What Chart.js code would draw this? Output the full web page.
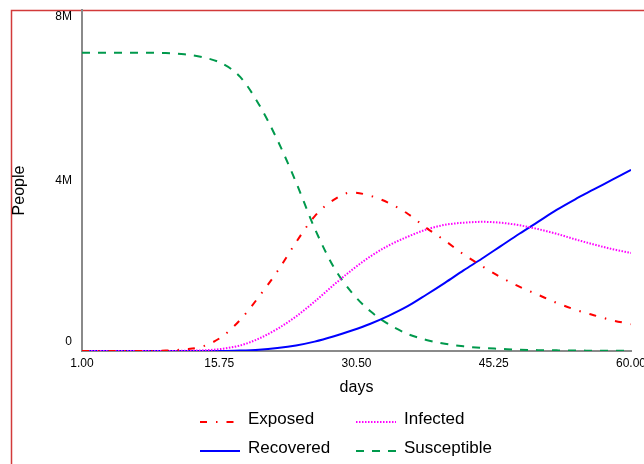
<!DOCTYPE html>
<html>
<head>
<meta charset="utf-8">
<script src="https://cdn.jsdelivr.net/npm/chart.js@4.4.1/dist/chart.umd.min.js"></script>
<style>
  html, body { margin: 0; padding: 0; background: #fff; overflow: hidden; }
  #wrap { position: relative; width: 644px; height: 464px; }
</style>
</head>
<body>
<div id="wrap"><canvas id="seir" width="644" height="464"></canvas></div>
<script>
/* ---- data (people, in millions) ---- */
const days = [1, 4, 7, 10, 12, 14, 16, 18, 20, 22, 24, 26, 28, 30, 32, 34, 36, 38, 40, 42, 44, 46, 48, 50, 52, 54, 56, 58, 60];

const exposed     = [0, 0, 0, 0.01, 0.04, 0.11, 0.33, 0.73, 1.27, 1.87, 2.55, 3.16, 3.54, 3.72, 3.64, 3.47, 3.22, 2.89, 2.59, 2.27, 1.99, 1.73, 1.51, 1.32, 1.13, 0.97, 0.84, 0.72, 0.63];
const infected    = [0, 0, 0, 0, 0.005, 0.015, 0.05, 0.13, 0.29, 0.52, 0.81, 1.16, 1.54, 1.90, 2.22, 2.48, 2.68, 2.85, 2.96, 3.01, 3.03, 3.01, 2.95, 2.86, 2.75, 2.62, 2.50, 2.39, 2.30];
const recovered   = [0, 0, 0, 0, 0, 0, 0, 0.01, 0.03, 0.07, 0.13, 0.22, 0.34, 0.48, 0.64, 0.83, 1.05, 1.32, 1.60, 1.89, 2.17, 2.46, 2.75, 3.03, 3.31, 3.56, 3.79, 4.02, 4.25];
const susceptible = [7, 7, 7, 6.99, 6.96, 6.89, 6.75, 6.43, 5.79, 4.95, 3.96, 2.88, 1.99, 1.37, 0.93, 0.62, 0.40, 0.26, 0.17, 0.11, 0.07, 0.05, 0.03, 0.02, 0.015, 0.01, 0.008, 0.005, 0.003];

const xTicks = [1, 15.75, 30.5, 45.25, 60];
const yTicks = [0, 4, 8];
const yTickLabels = ['0', '4M', '8M'];

const xTitle = 'days';
const yTitle = 'People';

const FONT = '"Liberation Sans", Arial, sans-serif';
const AXIS_GRAY = '#8a8a8a';
const FRAME_RED = '#d23a3a';

const pts = arr => days.map((d, i) => ({ x: d, y: arr[i] }));

/* ---- frame, y labels, y title and legend drawn on the chart canvas ---- */
const extrasPlugin = {
    id: 'extras',
    beforeDraw(chart) {
        const ctx = chart.ctx;
        ctx.save();
        ctx.strokeStyle = FRAME_RED;
        ctx.lineWidth = 1.5;
        ctx.strokeRect(11.5, 10.5, 800, 800);
        ctx.restore();
    },
    afterDraw(chart) {
        const { ctx, chartArea } = chart;
        const y = chart.scales.y;
        ctx.save();

        // y tick labels (kept inside the plot height like the original)
        ctx.font = '12px ' + FONT;
        ctx.fillStyle = '#000';
        ctx.textAlign = 'right';
        ctx.textBaseline = 'middle';
        y.ticks.forEach((t, i) => {
            let py = y.getPixelForValue(t.value);
            py = Math.min(Math.max(py, chartArea.top + 7), chartArea.bottom - 9);
            ctx.fillText(yTickLabels[i], chartArea.left - 10, py);
        });

        // y title
        ctx.save();
        ctx.translate(20, (chartArea.top + chartArea.bottom) / 2 + 10);
        ctx.rotate(-Math.PI / 2);
        ctx.font = '16px ' + FONT;
        ctx.textAlign = 'center';
        ctx.fillText(yTitle, 0, 0);
        ctx.restore();

        // legend: 2 columns x 2 rows
        const colX = [200, 356];
        const rowY = [419, 448];
        ctx.font = '17px ' + FONT;
        ctx.textAlign = 'left';
        chart.data.datasets.forEach((ds, i) => {
            const lx = colX[i % 2];
            const ly = rowY[Math.floor(i / 2)];
            const len = ds.borderDash && ds.borderDash.length === 4 ? 34 : 40;
            ctx.beginPath();
            ctx.strokeStyle = ds.borderColor;
            ctx.lineWidth = ds.borderWidth;
            ctx.setLineDash(ds.borderDash || []);
            ctx.moveTo(lx, ly + 3);
            ctx.lineTo(lx + len, ly + 3);
            ctx.stroke();
            ctx.setLineDash([]);
            ctx.fillStyle = '#000';
            ctx.fillText(ds.label, lx + 48, ly);
        });
        ctx.restore();
    }
};

new Chart(document.getElementById('seir'), {
    type: 'line',
    data: {
        datasets: [
            { label: 'Exposed', data: pts(exposed), borderColor: '#ff0000', borderWidth: 2, borderDash: [7, 9, 1.5, 9] },
            { label: 'Infected', data: pts(infected), borderColor: '#ff00ff', borderWidth: 2, borderDash: [1.5, 1.5] },
            { label: 'Recovered', data: pts(recovered), borderColor: '#0000ff', borderWidth: 2 },
            { label: 'Susceptible', data: pts(susceptible), borderColor: '#00994c', borderWidth: 2, borderDash: [8, 8] }
        ]
    },
    options: {
        responsive: false,
        animation: false,
        layout: { padding: { top: 10, right: 13, bottom: 67, left: 0 } },
        elements: {
            point: { radius: 0 },
            line: { cubicInterpolationMode: 'monotone', borderCapStyle: 'butt', fill: false }
        },
        plugins: { legend: { display: false }, tooltip: { enabled: false } },
        scales: {
            x: {
                type: 'linear',
                min: 1,
                max: 60,
                grid: { display: false, drawTicks: false },
                border: { color: AXIS_GRAY, width: 2 },
                ticks: {
                    autoSkip: false,
                    maxRotation: 0,
                    padding: 5,
                    color: '#000',
                    font: { family: FONT, size: 12 },
                    callback: v => Number(v).toFixed(2)
                },
                title: { display: true, text: xTitle, color: '#000', font: { family: FONT, size: 16 }, padding: 0 },
                afterBuildTicks: s => { s.ticks = xTicks.map(v => ({ value: v })); },
                afterFit: s => { s.height = 46; s.paddingLeft = 0; s.paddingRight = 0; }
            },
            y: {
                min: 0,
                max: 8,
                grid: { display: false, drawTicks: false },
                border: { color: AXIS_GRAY, width: 2 },
                ticks: { display: false },
                afterBuildTicks: s => { s.ticks = yTicks.map(v => ({ value: v })); },
                afterFit: s => { s.width = 82; s.paddingTop = 0; s.paddingBottom = 0; }
            }
        }
    },
    plugins: [extrasPlugin]
});
</script>
</body>
</html>
